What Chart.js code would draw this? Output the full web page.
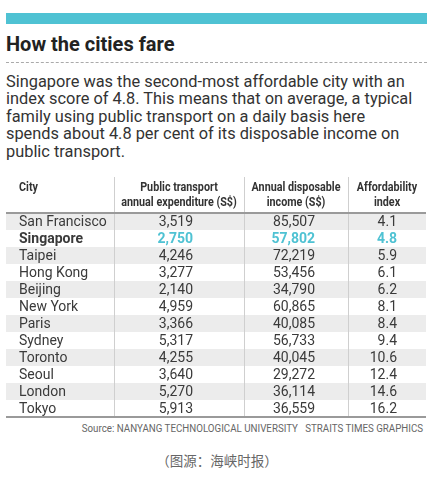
<!DOCTYPE html>
<html>
<head>
<meta charset="utf-8">
<script src="https://cdn.jsdelivr.net/npm/chart.js@4.4.1/dist/chart.umd.min.js"></script>
<style>
  html, body { margin: 0; padding: 0; background: #fff; }
  body { width: 440px; height: 477px; position: relative; overflow: hidden; font-family: Roboto, "Open Sans", sans-serif; }
  .topbar { position: absolute; left: 6px; top: 13px; width: 421px; height: 11px; background: #4fc2d3; }
  .title { position: absolute; left: 6px; top: 32px; font: bold 20px/24px Roboto, sans-serif; color: #222; white-space: nowrap; }
  .dash { position: absolute; left: 6px; top: 62px; width: 421px; border-top: 1px dashed #aaa; }
  .lede { position: absolute; left: 6px; top: 73px; font: 17px/17.4px Roboto, sans-serif; color: #333; white-space: nowrap;
          transform: scaleX(0.962); transform-origin: 0 0; }
  .tbl { position: absolute; left: 0; top: 172px; }
  .source { position: absolute; right: 17px; top: 423px; font: 10px/12px Roboto, sans-serif; color: #666; white-space: nowrap;
            transform: scaleX(0.975); transform-origin: 100% 0; }
  .credit { position: absolute; left: 0; width: 434px; top: 451px; text-align: center; font: 13.5px/18px "Noto Sans CJK SC", sans-serif; color: #666; }
</style>
</head>
<body>
<div class="topbar"></div>
<div class="title">How the cities fare</div>
<div class="dash"></div>
<div class="lede">Singapore was the second-most affordable city with an<br>index score of 4.8. This means that on average, a typical<br>family using public transport on a daily basis here<br>spends about 4.8 per cent of its disposable income on<br>public transport.</div>
<div class="tbl"><canvas id="table" width="440" height="250"></canvas></div>
<div class="source">Source: NANYANG TECHNOLOGICAL UNIVERSITY&nbsp;&nbsp; STRAITS TIMES GRAPHICS</div>
<div class="credit">（图源：海峡时报）</div>
<script>
const cities = ['San Francisco', 'Singapore', 'Taipei', 'Hong Kong', 'Beijing', 'New York',
  'Paris', 'Sydney', 'Toronto', 'Seoul', 'London', 'Tokyo'];
const expenditure = [3519, 2750, 4246, 3277, 2140, 4959, 3366, 5317, 4255, 3640, 5270, 5913];
const income = [85507, 57802, 72219, 53456, 34790, 60865, 40085, 56733, 40045, 29272, 36114, 36559];
const affordIndex = [4.1, 4.8, 5.9, 6.1, 6.2, 8.1, 8.4, 9.4, 10.6, 12.4, 14.6, 16.2];
const headerLines = [
  ['City'],
  ['Public transport', 'annual expenditure (S$)'],
  ['Annual disposable', 'income (S$)'],
  ['Affordability', 'index'],
];
const highlightCity = 'Singapore';

// column geometry (x pixels): column edges and where numbers end
const colEdges = [6, 114, 244, 348, 426];
const numRight = [193, 315, 397];
const TEAL = '#4fc2d3';

const fmtInt = v => v.toLocaleString('en-US');
const columns = [
  { values: expenditure, fmt: fmtInt },
  { values: income, fmt: fmtInt },
  { values: affordIndex, fmt: v => v.toFixed(1) },
];

const tablePlugin = {
  id: 'tableCells',
  beforeDatasetsDraw(chart) {
    const { ctx, chartArea, scales: { y } } = chart;
    const step = y.getPixelForValue(1) - y.getPixelForValue(0);
    ctx.save();
    // alternating row shading
    cities.forEach((c, i) => {
      if (i % 2 === 0) {
        const cy = y.getPixelForValue(i);
        ctx.fillStyle = '#ececec';
        ctx.fillRect(chartArea.left, cy - step / 2, chartArea.right - chartArea.left, step);
      }
    });
    // column dividers
    ctx.strokeStyle = '#cfcfcf';
    ctx.lineWidth = 1;
    for (let k = 1; k < colEdges.length - 1; k++) {
      ctx.beginPath();
      ctx.moveTo(colEdges[k] + 0.5, 5);
      ctx.lineTo(colEdges[k] + 0.5, chartArea.bottom);
      ctx.stroke();
    }
    ctx.restore();
  },
  afterDatasetsDraw(chart) {
    const { ctx, chartArea, scales: { y } } = chart;
    ctx.save();
    // header
    ctx.fillStyle = '#333';
    ctx.textBaseline = 'middle';
    ctx.font = 'bold 12.5px Roboto, sans-serif';
    headerLines.forEach((lines, k) => {
      lines.forEach((txt, j) => {
        const ly = 16 + j * 15;
        ctx.save();
        if (k === 0) {
          ctx.textAlign = 'left';
          ctx.translate(19, ly);
        } else {
          ctx.textAlign = 'center';
          ctx.translate((colEdges[k] + colEdges[k + 1]) / 2, ly);
        }
        ctx.scale(0.86, 1);
        ctx.fillText(txt, 0, 0);
        ctx.restore();
      });
    });
    // rules
    ctx.strokeStyle = '#9a9a9a';
    ctx.lineWidth = 2;
    [chartArea.top, chartArea.bottom].forEach(ly => {
      ctx.beginPath();
      ctx.moveTo(chartArea.left, ly);
      ctx.lineTo(chartArea.right, ly);
      ctx.stroke();
    });
    // body cells
    cities.forEach((city, i) => {
      const cy = y.getPixelForValue(i) + 0.5;
      const hl = city === highlightCity;
      ctx.font = (hl ? 'bold ' : '') + '14px Roboto, sans-serif';
      ctx.fillStyle = '#3a3a3a';
      ctx.textAlign = 'left';
      ctx.fillText(city, 19, cy);
      columns.forEach((col, k) => {
        ctx.fillStyle = hl ? TEAL : '#3a3a3a';
        ctx.textAlign = 'right';
        ctx.fillText(col.fmt(col.values[i]), numRight[k], cy);
      });
    });
    ctx.restore();
  },
};

new Chart(document.getElementById('table'), {
  type: 'bar',
  data: { labels: cities, datasets: [] },
  options: {
    indexAxis: 'y',
    responsive: false,
    animation: false,
    layout: { padding: { left: 6, right: 14, top: 41, bottom: 5 } },
    plugins: { legend: { display: false }, tooltip: { enabled: false } },
    scales: {
      y: { type: 'category', display: false, offset: true },
      x: { display: false },
    },
  },
  plugins: [tablePlugin],
});
</script>
</body>
</html>
